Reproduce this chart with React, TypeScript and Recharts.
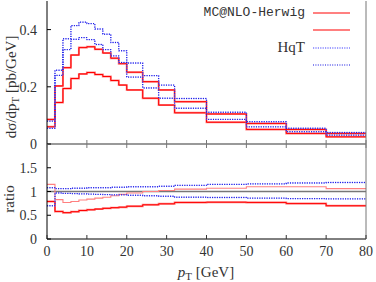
import React from "react";
import { LineChart, Line, XAxis, YAxis, ReferenceLine, Legend } from "recharts";

// bin edges in pT [GeV]; each series has one value per bin
const EDGES = [0, 2, 4, 6, 8, 10, 12, 14, 16, 18, 20, 24, 28, 32, 40, 50, 60, 70, 80];

const MC_HI = [0.086, 0.203, 0.267, 0.311, 0.337, 0.340, 0.331, 0.318, 0.300, 0.281, 0.251, 0.218, 0.189, 0.148, 0.105, 0.072, 0.051, 0.037];
const MC_LO = [0.060, 0.145, 0.194, 0.229, 0.245, 0.250, 0.243, 0.236, 0.222, 0.206, 0.189, 0.160, 0.136, 0.109, 0.076, 0.051, 0.037, 0.025];
const HQT_HI = [0.080, 0.258, 0.368, 0.414, 0.426, 0.421, 0.402, 0.384, 0.355, 0.326, 0.283, 0.239, 0.206, 0.159, 0.111, 0.078, 0.055, 0.040];
const HQT_LO = [0.055, 0.240, 0.330, 0.366, 0.372, 0.365, 0.348, 0.330, 0.308, 0.285, 0.234, 0.196, 0.160, 0.125, 0.086, 0.060, 0.043, 0.031];

// ratio panel
const R_MC_HI = [1.15, 0.83, 0.77, 0.79, 0.82, 0.84, 0.86, 0.88, 0.91, 0.94, 0.97, 1.00, 1.02, 1.05, 1.07, 1.10, 1.10, 1.06];
const R_MC_LO = [0.79, 0.58, 0.555, 0.575, 0.60, 0.615, 0.63, 0.645, 0.66, 0.67, 0.69, 0.72, 0.74, 0.77, 0.775, 0.77, 0.745, 0.70];
const R_HQT_HI = [1.08, 1.06, 1.06, 1.07, 1.07, 1.08, 1.08, 1.08, 1.09, 1.09, 1.10, 1.10, 1.11, 1.13, 1.15, 1.16, 1.18, 1.19];
const R_HQT_LO = [0.70, 0.97, 0.96, 0.955, 0.95, 0.945, 0.94, 0.935, 0.93, 0.93, 0.92, 0.91, 0.90, 0.88, 0.875, 0.86, 0.85, 0.845];

const X_TICKS = [0, 10, 20, 30, 40, 50, 60, 70, 80];
const TOP_TICKS = [0, 0.2, 0.4];
const RATIO_TICKS = [0, 0.5, 1, 1.5];

const SERIF = "Liberation Serif";
const MONO = "Liberation Mono";
const LIGHT_RED = "#ff8080";
const RED = "#ff0000";
const LIGHT_BLUE = "#8080ff";
const BLUE = "#1010e0";
const GREY = "#777";

// stepAfter needs the last bin repeated at the closing edge
const hist = (cols: Record<string, number[]>) =>
  EDGES.map((x, i) => {
    const row: Record<string, number> = { x };
    for (const k in cols) row[k] = cols[k][Math.min(i, cols[k].length - 1)];
    return row;
  });

const topData = hist({ mcHi: MC_HI, mcLo: MC_LO, hqHi: HQT_HI, hqLo: HQT_LO });
const ratioData = hist({ mcHi: R_MC_HI, mcLo: R_MC_LO, hqHi: R_HQT_HI, hqLo: R_HQT_LO });

const leftTick = (p: any) => (
  <g>
    <line x1={p.x} x2={p.x + 4} y1={p.y} y2={p.y} stroke="#000" />
    <text x={p.x - 10} y={p.y} dy={5} textAnchor="end" fontFamily={SERIF} fontSize={14} fill="#333">
      {String(p.payload.value)}
    </text>
  </g>
);

const rightTick = (p: any) => (
  <line x1={p.x} x2={p.x - 4} y1={p.y} y2={p.y} stroke={GREY} />
);

const bottomTick = (color: string, labels: boolean) => (p: any) => (
  <g>
    <line x1={p.x} x2={p.x} y1={p.y} y2={p.y - 4} stroke={color} />
    {labels && (
      <text x={p.x} y={p.y + 17} textAnchor="middle" fontFamily={SERIF} fontSize={14} fill="#333">
        {String(p.payload.value)}
      </text>
    )}
  </g>
);

const topTick = (p: any) => (
  <line x1={p.x} x2={p.x} y1={p.y} y2={p.y + 4} stroke={GREY} />
);

const legendRows = [
  { label: "MC@NLO-Herwig", mono: true, stroke: LIGHT_RED, width: 2, dash: undefined },
  { label: "", mono: true, stroke: RED, width: 1.2, dash: undefined },
  { label: "HqT", mono: false, stroke: LIGHT_BLUE, width: 1.4, dash: "1.2 1.2" },
  { label: "", mono: false, stroke: BLUE, width: 1.1, dash: "1 1.4" },
];

const LegendBox = () => (
  <div>
    {legendRows.map((r, i) => (
      <div key={i} style={{ display: "flex", alignItems: "center", height: 17.5 }}>
        <span
          style={{
            width: 115,
            textAlign: "right",
            fontFamily: r.mono ? MONO : SERIF,
            fontSize: r.mono ? 13 : 15,
            color: "#333",
            whiteSpace: "nowrap",
          }}
        >
          {r.label}
        </span>
        <svg width={48} height={10} style={{ marginLeft: 8 }}>
          <line x1={0} x2={37} y1={5} y2={5} stroke={r.stroke} strokeWidth={r.width} strokeDasharray={r.dash} />
        </svg>
      </div>
    ))}
  </div>
);

const lineProps = { type: "stepAfter" as const, dot: false, isAnimationActive: false, activeDot: false };

export default function App() {
  return (
    <div style={{ position: "absolute", left: 0, top: 0, width: 376, height: 282, background: "#fff" }}>
      <div style={{ position: "absolute", left: 0, top: 0 }}>
        <LineChart width={376} height={282} data={topData} margin={{ top: 1, right: 9, bottom: 137, left: 0 }}>
          <XAxis
            dataKey="x"
            type="number"
            domain={[0, 80]}
            ticks={X_TICKS}
            height={1}
            tickSize={0}
            tickMargin={0}
            axisLine={{ stroke: GREY, strokeWidth: 1.5 }}
            tick={bottomTick(GREY, false)}
            tickLine={false}
          />
          <YAxis
            domain={[0, 0.5]}
            ticks={TOP_TICKS}
            width={47}
            tickSize={0}
            tickMargin={0}
            axisLine={{ stroke: "#000" }}
            tick={leftTick}
            tickLine={false}
          />
          <YAxis
            yAxisId="r"
            orientation="right"
            domain={[0, 0.5]}
            ticks={TOP_TICKS}
            width={1}
            tickSize={0}
            tickMargin={0}
            axisLine={{ stroke: GREY }}
            tick={rightTick}
            tickLine={false}
          />
          <Legend
            layout="vertical"
            align="center"
            verticalAlign="middle"
            content={LegendBox}
            wrapperStyle={{ position: "absolute", top: 4, left: 190, width: 175 }}
          />
          <Line {...lineProps} dataKey="mcHi" stroke={LIGHT_RED} strokeWidth={2} />
          <Line {...lineProps} dataKey="mcLo" stroke={LIGHT_RED} strokeWidth={2} />
          <Line {...lineProps} dataKey="mcHi" stroke={RED} strokeWidth={1} />
          <Line {...lineProps} dataKey="mcLo" stroke={RED} strokeWidth={1} />
          <Line {...lineProps} dataKey="hqHi" stroke={LIGHT_BLUE} strokeWidth={1.4} strokeDasharray="1.2 1.2" />
          <Line {...lineProps} dataKey="hqLo" stroke={LIGHT_BLUE} strokeWidth={1.4} strokeDasharray="1.2 1.2" />
          <Line {...lineProps} dataKey="hqHi" stroke={BLUE} strokeWidth={1} strokeDasharray="1 1.4" />
          <Line {...lineProps} dataKey="hqLo" stroke={BLUE} strokeWidth={1} strokeDasharray="1 1.4" />
        </LineChart>
      </div>

      <div style={{ position: "absolute", left: 0, top: 0 }}>
        <LineChart width={376} height={282} data={ratioData} margin={{ top: 143, right: 9, bottom: 42, left: 0 }}>
          <XAxis
            dataKey="x"
            type="number"
            domain={[0, 80]}
            ticks={X_TICKS}
            height={1}
            tickSize={0}
            tickMargin={0}
            axisLine={{ stroke: "#000" }}
            tick={bottomTick("#333", true)}
            tickLine={false}
          />
          <XAxis
            xAxisId="t"
            orientation="top"
            dataKey="x"
            type="number"
            domain={[0, 80]}
            ticks={X_TICKS}
            height={1}
            tickSize={0}
            tickMargin={0}
            axisLine={false}
            tick={topTick}
            tickLine={false}
          />
          <YAxis
            domain={[0, 2]}
            ticks={RATIO_TICKS}
            width={47}
            tickSize={0}
            tickMargin={0}
            axisLine={{ stroke: "#000" }}
            tick={leftTick}
            tickLine={false}
          />
          <YAxis
            yAxisId="r"
            orientation="right"
            domain={[0, 2]}
            ticks={RATIO_TICKS}
            width={1}
            tickSize={0}
            tickMargin={0}
            axisLine={{ stroke: GREY }}
            tick={rightTick}
            tickLine={false}
          />
          <ReferenceLine y={1} stroke={GREY} strokeWidth={1.5} />
          <Line {...lineProps} dataKey="mcHi" stroke={LIGHT_RED} strokeWidth={1.1} />
          <Line {...lineProps} dataKey="mcLo" stroke={LIGHT_RED} strokeWidth={2} />
          <Line {...lineProps} dataKey="mcLo" stroke={RED} strokeWidth={1} />
          <Line {...lineProps} dataKey="hqHi" stroke={LIGHT_BLUE} strokeWidth={1.4} strokeDasharray="1.2 1.2" />
          <Line {...lineProps} dataKey="hqLo" stroke={LIGHT_BLUE} strokeWidth={1.4} strokeDasharray="1.2 1.2" />
          <Line {...lineProps} dataKey="hqHi" stroke={BLUE} strokeWidth={1} strokeDasharray="1 1.4" />
          <Line {...lineProps} dataKey="hqLo" stroke={BLUE} strokeWidth={1} strokeDasharray="1 1.4" />
        </LineChart>
      </div>

      {/* axis titles */}
      <svg width={376} height={282} style={{ position: "absolute", left: 0, top: 0, pointerEvents: "none" }}>
        <text
          transform="translate(16 87) rotate(-90)"
          textAnchor="middle"
          fontFamily={SERIF}
          fontSize={15}
          fill="#333"
        >
          dσ/dp<tspan fontSize={11} dy={3}>T</tspan>
          <tspan dy={-3}> [pb/GeV]</tspan>
        </text>
        <text transform="translate(14 199) rotate(-90)" textAnchor="middle" fontFamily={SERIF} fontSize={15} fill="#333">
          ratio
        </text>
        <text x={206} y={277} textAnchor="middle" fontFamily={SERIF} fontSize={15} fill="#333">
          <tspan fontStyle="italic">p</tspan>
          <tspan fontSize={11} dy={3}>T</tspan>
          <tspan dy={-3}> [GeV]</tspan>
        </text>
      </svg>
    </div>
  );
}
